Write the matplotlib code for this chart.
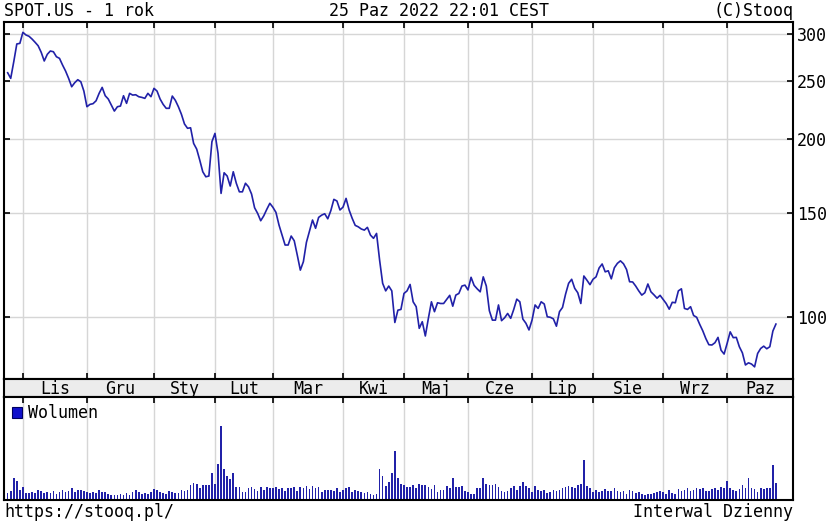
import numpy as np
import pandas as pd
import matplotlib
matplotlib.use("Agg")
import matplotlib.pyplot as plt
from matplotlib.patches import Patch
from matplotlib.ticker import NullLocator, FixedFormatter

# ── Data ────────────────────────────────────────────────────────────────
NYSE_HOLIDAYS = ["2021-11-25", "2021-12-24", "2022-01-17", "2022-02-21",
                 "2022-04-15", "2022-05-30", "2022-06-20", "2022-07-04",
                 "2022-09-05"]
MONTH_LABELS = ["Lis", "Gru", "Sty", "Lut", "Mar", "Kwi", "Maj", "Cze",
                "Lip", "Sie", "Wrz", "Paz"]
PRICE_TICKS = [100, 150, 200, 250, 300]

close = [
    # Oct 2021
    258.4, 252.8, 269.7, 289.0, 289.7,
    # Nov
    302.4, 299.3, 297.8, 294.6, 290.9, 287.0, 279.8, 270.5, 277.6, 281.2,
    280.4, 275.0, 273.3, 266.3, 260.1, 252.8, 244.7, 248.6, 251.5, 249.5, 240.6,
    # Dec
    226.4, 228.5, 229.1, 231.7, 238.5, 244.1, 236.3, 233.3, 227.9, 222.6,
    226.4, 227.0, 236.3, 229.4, 238.5, 236.9, 237.2, 235.4, 234.8, 233.9,
    238.5, 235.4,
    # Jan 2022
    243.2, 240.6, 233.3, 228.5, 225.0, 225.0, 236.0, 232.1, 226.4, 219.8,
    211.7, 208.2, 208.6, 196.3, 192.0, 184.0, 175.8, 172.4, 172.9, 197.6,
    # Feb
    204.1, 188.9, 161.6, 175.1, 172.9, 166.3, 175.8, 168.1, 162.6, 162.6,
    168.1, 165.8, 161.2, 152.8, 149.5, 145.3, 148.1, 151.9, 155.5,
    # Mar
    153.1, 150.1, 142.9, 137.4, 132.2, 132.2, 136.9, 134.4, 127.1, 119.9,
    123.9, 133.6, 139.6, 145.7, 141.1, 147.2, 148.5, 149.3, 146.4, 151.1,
    157.9, 156.9, 151.5,
    # Apr
    153.2, 158.5, 151.5, 146.7, 142.7, 141.9, 140.7, 140.1, 141.6, 137.4,
    135.7, 138.3, 124.7, 113.9, 110.6, 112.7, 110.6, 97.8, 102.6, 102.9,
    # May
    109.5, 110.6, 113.4, 106.0, 104.0, 95.6, 98.1, 92.8, 99.4, 106.0,
    102.0, 105.6, 105.3, 105.3, 107.0, 108.7, 104.2, 108.8, 109.5, 112.7, 113.1,
    # Jun
    111.0, 116.6, 113.0, 111.5, 110.2, 116.8, 112.7, 102.4, 98.7, 98.7,
    104.7, 98.5, 99.6, 101.3, 99.4, 102.9, 107.1, 106.0, 99.1, 97.5, 95.0,
    # Jul
    98.7, 104.7, 103.3, 106.0, 105.1, 100.0, 99.8, 99.2, 96.4, 102.0,
    103.7, 109.2, 113.9, 115.7, 111.7, 109.8, 105.3, 117.2, 115.3, 113.3,
    # Aug
    115.7, 116.8, 120.9, 122.8, 119.1, 119.6, 115.9, 121.0, 123.1, 124.3,
    122.9, 120.2, 114.6, 114.5, 112.7, 110.6, 108.8, 109.8, 113.6, 110.2,
    108.9, 107.5, 108.7,
    # Sep
    107.0, 105.3, 103.0, 105.8, 105.6, 110.6, 111.5, 103.3, 102.9, 104.0,
    100.5, 99.8, 97.1, 94.7, 91.9, 89.7, 89.6, 90.4, 92.3, 87.8, 86.5,
    # Oct 2022
    90.2, 94.3, 92.2, 92.3, 89.0, 86.9, 82.9, 83.6, 83.2, 82.3,
    86.7, 88.4, 89.2, 88.3, 89.0, 94.6, 97.2,
]

# daily volume, thousands of shares
volume = [
    700, 900, 2200, 1900, 1000,
    1300, 700, 700, 800, 700, 1000, 900, 700, 800, 700,
    900, 600, 800, 1000, 800, 900, 1200, 800, 1000, 1000, 900,
    800, 700, 800, 700, 1000, 800, 800, 600, 500, 500,
    500, 600, 500, 700, 500, 800, 1000, 800, 600, 700,
    600, 800,
    1100, 1000, 800, 700, 600, 900, 800, 700, 700, 1000,
    900, 1000, 1500, 1700, 1600, 1200, 1500, 1500, 1500, 2700,
    1600, 3600, 7400, 3100, 2400, 2100, 2700, 1300, 1300, 800,
    800, 1200, 1300, 1100, 900, 1300, 1000, 1300, 1200,
    1200, 1300, 1100, 1200, 900, 1200, 1200, 1300, 900, 1300,
    1200, 1400, 1100, 1400, 1200, 1300, 800, 1000, 1000, 1000,
    900, 1200, 800,
    1000, 1200, 1300, 800, 1000, 900, 800, 700, 800, 600,
    500, 600, 3100, 2400, 1400, 1800, 2700, 4900, 2200, 1600,
    1500, 1300, 1300, 1500, 1200, 1600, 1500, 1500, 1300, 1100,
    1500, 800, 1000, 1000, 1400, 1200, 2200, 1300, 1300, 1400, 900,
    800, 600, 600, 1200, 1200, 2200, 1600, 1500, 1500, 1600,
    1300, 900, 800, 900, 1200, 1400, 1000, 1400, 1800, 1400, 1200,
    800, 1400, 1000, 900, 1000, 700, 800, 1000, 900, 1000,
    1200, 1300, 1400, 1300, 1200, 1500, 1600, 4000, 1400, 1200,
    800, 1000, 800, 900, 1100, 900, 900, 1200, 900, 800,
    900, 600, 1000, 900, 700, 800, 600, 500, 600, 600,
    700, 800, 900,
    800, 600, 1000, 700, 600, 1100, 900, 1000, 1200, 900,
    1000, 1200, 1100, 1200, 900, 900, 1100, 1200, 1000, 1300, 1200,
    1900, 1200, 1000, 900, 1100, 1500, 1200, 2200, 1200, 1100,
    800, 1200, 1100, 1200, 1200, 3500, 1700,
]

# ── Trading calendar ────────────────────────────────────────────────────
dates = pd.bdate_range("2021-10-25", "2022-10-25", freq="C",
                       holidays=NYSE_HOLIDAYS)
x = np.arange(len(dates))
month_start = [i for i in range(1, len(dates))
               if dates[i].month != dates[i - 1].month]

W, H = 830, 523
BLUE = "#2121a8"
GRID = "#d6d6d6"
FONT = "DejaVu Sans Mono"
FS = 12
plt.rcParams["font.family"] = FONT


def box(left, top, right, bottom):
    return [left / W, 1 - bottom / H, (right - left) / W, (bottom - top) / H]


fig = plt.figure(figsize=(W / 100, H / 100), dpi=100)
ax = fig.add_axes(box(4, 22, 793, 379))
ax_m = fig.add_axes(box(4, 379, 793, 397))
ax_v = fig.add_axes(box(4, 397, 793, 500))

xlim = (-1.2, 257.6)

# ── Price panel ─────────────────────────────────────────────────────────
ax.plot(x, close, color=BLUE, lw=1.2, solid_joinstyle="round")
ax.set_xlim(*xlim)
ax.set_yscale("log")
ax.set_ylim(78.5, 314.8)
ax.set_yticks(PRICE_TICKS)
ax.yaxis.set_minor_locator(NullLocator())
ax.yaxis.set_major_formatter(FixedFormatter([str(t) for t in PRICE_TICKS]))
ax.set_xticks(month_start)
ax.grid(True, color=GRID, lw=1.0)
ax.tick_params(axis="x", direction="in", length=4, width=1.2, top=True,
               bottom=True, labelbottom=False)
ax.tick_params(axis="y", direction="in", length=4, width=1.2, left=True,
               right=True, labelleft=False, labelright=True, pad=3,
               labelsize=FS)

# ── Month strip ─────────────────────────────────────────────────────────
ax_m.set_facecolor("#ececec")
ax_m.set_xlim(*xlim)
ax_m.set_ylim(0, 1)
ax_m.set_xticks([])
ax_m.set_yticks([])
edges = month_start + [xlim[1]]
for lab, a, b in zip(MONTH_LABELS, edges[:-1], edges[1:]):
    ax_m.text((a + b) / 2, 0.45, lab, ha="center", va="center", fontsize=FS)

# ── Volume panel ────────────────────────────────────────────────────────
ax_v.bar(x, volume, width=0.55, color=BLUE, lw=0)
ax_v.set_xlim(*xlim)
ax_v.set_ylim(0, 10300)
ax_v.set_xticks(month_start)
ax_v.set_yticks([])
ax_v.grid(True, axis="x", color=GRID, lw=1.0)
ax_v.set_axisbelow(True)
ax_v.tick_params(axis="x", direction="in", length=4, width=1.2, top=True,
                 bottom=False, labelbottom=False)
ax_v.legend(handles=[Patch(facecolor="#1010cc", edgecolor="#000060", lw=0.8)],
            labels=["Wolumen"], loc="upper left", frameon=False,
            handlelength=0.6, handleheight=0.6, handletextpad=0.4,
            borderaxespad=0.15, borderpad=0.3, fontsize=FS)

for a in (ax, ax_m, ax_v):
    for s in a.spines.values():
        s.set_linewidth(1.5)
        s.set_color("black")

# ── Header / footer texts ───────────────────────────────────────────────
fig.text(4 / W, 1 - 11 / H, "SPOT.US - 1 rok", ha="left", va="center", fontsize=FS)
fig.text(439 / W, 1 - 11 / H, "25 Paz 2022 22:01 CEST", ha="center", va="center",
         fontsize=FS)
fig.text(793 / W, 1 - 11 / H, "(C)Stooq", ha="right", va="center", fontsize=FS)
fig.text(4 / W, 1 - 512 / H, "https://stooq.pl/", ha="left", va="center", fontsize=FS)
fig.text(793 / W, 1 - 512 / H, "Interwal Dzienny", ha="right", va="center",
         fontsize=FS)

fig.savefig("out.png", dpi=100)
